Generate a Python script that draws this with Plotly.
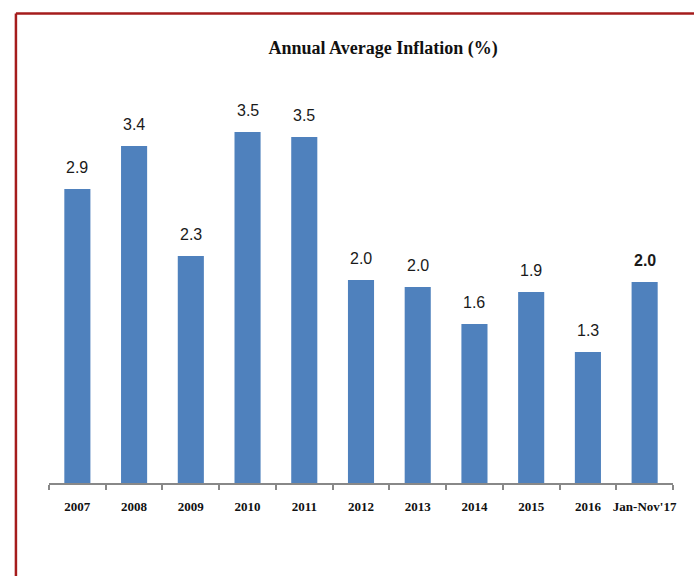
import plotly.graph_objects as go

# data
years = ["2007", "2008", "2009", "2010", "2011", "2012",
         "2013", "2014", "2015", "2016", "Jan-Nov'17"]
inflation = [2.94, 3.37, 2.27, 3.51, 3.46, 2.03, 1.96, 1.59, 1.91, 1.31, 2.01]

BAR_BLUE = "#4F81BD"
BORDER_RED = "#A51C1C"
LABEL_FONT = "Liberation Sans, Arial, sans-serif"
SERIF_FONT = "Liberation Serif, Times New Roman, serif"

fig = go.Figure()
fig.add_trace(go.Bar(
    x=years, y=inflation,
    marker=dict(color=BAR_BLUE, line=dict(width=0)),
    hoverinfo="x+y",
))

# value labels above bars (last one bold); x by index, since "2007" etc.
# would otherwise be read as numbers on the category axis
for i, v in enumerate(inflation):
    label = f"{v:.1f}"
    if i == len(years) - 1:
        label = f"<b>{label}</b>"
    fig.add_annotation(
        x=i, y=v, text=label, showarrow=False,
        yshift=22, yanchor="middle",
        font=dict(family=LABEL_FONT, size=16, color="#1a1a1a"),
    )

# red frame around the picture (left + top edge)
fig.add_shape(type="line", xref="paper", yref="paper",
              x0=-0.053, x1=-0.053, y0=-0.3, y1=1.174,
              line=dict(color=BORDER_RED, width=2.5))
fig.add_shape(type="line", xref="paper", yref="paper",
              x0=-0.053, x1=1.1, y0=1.174, y1=1.174,
              line=dict(color=BORDER_RED, width=2.5))

fig.update_layout(
    width=694, height=576,
    margin=dict(l=49, r=21, t=83, b=93),
    paper_bgcolor="white", plot_bgcolor="white",
    bargap=0.54,
    showlegend=False,
    title=dict(
        text="<b>Annual Average Inflation (%)</b>",
        x=0.552, xanchor="center", y=0.918, yanchor="middle",
        font=dict(family=SERIF_FONT, size=18, color="#111"),
    ),
    xaxis=dict(
        type="category", range=[-0.5, 10.5],
        showline=True, linecolor="#888888", linewidth=2,
        ticks="outside", tickson="boundaries", ticklen=5, tickwidth=2, tickcolor="#888888",
        tickangle=0, ticklabelstandoff=10,
        tickfont=dict(family=SERIF_FONT, size=13, color="#111", weight="bold"),
        showgrid=False, zeroline=False,
    ),
    yaxis=dict(range=[0, 4], visible=False, showgrid=False, zeroline=False),
)

# drop the default body margin so the figure sits at the page corner
fig.write_html("out.html", config={"displayModeBar": False},
               post_script="document.body.style.margin='0';")
